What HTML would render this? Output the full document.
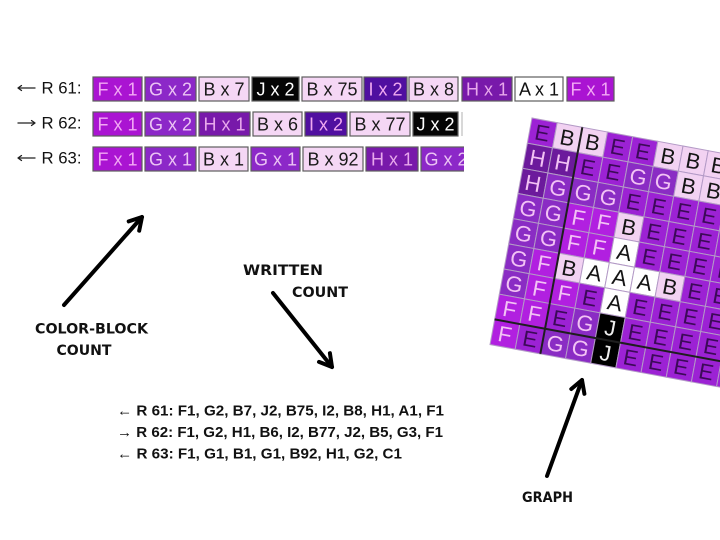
<!DOCTYPE html>
<html><head><meta charset="utf-8"><style>
html,body{margin:0;padding:0;background:#fff;}
svg{display:block;}
.lb{font-family:"Liberation Sans",Arial,sans-serif;font-size:17px;fill:#111;}
.bt{font-family:"Liberation Sans",Arial,sans-serif;font-size:18px;text-anchor:middle;}
.wc{font-family:"Liberation Sans",Arial,sans-serif;font-size:15px;font-weight:bold;fill:#111;}
.cm{font-family:"DejaVu Sans","Liberation Sans",sans-serif;font-size:14px;font-weight:bold;fill:#111;}
.gt{font-family:"Liberation Sans",Arial,sans-serif;font-size:22px;text-anchor:middle;}
.blk rect{stroke:#5e5e5e;stroke-width:1.2;}
.grid rect{stroke:#b39ac6;stroke-width:1;}
.e{fill:#9c22d4}.f{fill:#b120e0}.g{fill:#8a2cc4}.h{fill:#6c1a9c}.b{fill:#f2d2f2}.a{fill:#ffffff}.j{fill:#000}
.te{fill:#3c0a58}.tl{fill:#f2c2f4}.tk{fill:#151515}.tw{fill:#eeeeee}
</style></head><body>
<svg width="720" height="540" viewBox="0 0 720 540" xmlns="http://www.w3.org/2000/svg">
<defs><clipPath id="c63"><rect x="420" y="146" width="44" height="26"/></clipPath></defs>
<rect width="720" height="540" fill="#fff"/>

<!-- Row labels -->
<g stroke="#222" stroke-width="1.3" fill="none" stroke-linecap="round">
<path d="M18,88 L35,88 M18,88 L21.5,85.5 M18,88 L21.5,90.5"/>
<path d="M18,123 L35,123 M35,123 L31.5,120.5 M35,123 L31.5,125.5"/>
<path d="M18,158 L35,158 M18,158 L21.5,155.5 M18,158 L21.5,160.5"/>
</g>
<text class="lb" x="41.5" y="93.5" textLength="40" lengthAdjust="spacingAndGlyphs">R 61:</text>
<text class="lb" x="41.5" y="128.5" textLength="40" lengthAdjust="spacingAndGlyphs">R 62:</text>
<text class="lb" x="41.5" y="163.5" textLength="40" lengthAdjust="spacingAndGlyphs">R 63:</text>

<!-- Color block rows -->
<g class="blk">
<rect x="93" y="77" width="49" height="24" fill="#aa14d2"/><text class="bt" x="117.5" y="95.5" fill="#f2a8f4">F x 1</text>
<rect x="145" y="77" width="51" height="24" fill="#8c28c8"/><text class="bt" x="170.5" y="95.5" fill="#ecc4f4">G x 2</text>
<rect x="199" y="77" width="50" height="24" fill="#f5d7f5"/><text class="bt" x="224" y="95.5" fill="#1a1a1a">B x 7</text>
<rect x="252" y="77" width="47" height="24" fill="#050505"/><text class="bt" x="275.5" y="95.5" fill="#ffffff">J x 2</text>
<rect x="302" y="77" width="60" height="24" fill="#f5d7f5"/><text class="bt" x="332" y="95.5" fill="#1a1a1a">B x 75</text>
<rect x="364" y="77" width="43" height="24" fill="#500fa0"/><text class="bt" x="385.5" y="95.5" fill="#f0a8f0">I x 2</text>
<rect x="409" y="77" width="49" height="24" fill="#f5d7f5"/><text class="bt" x="433.5" y="95.5" fill="#1a1a1a">B x 8</text>
<rect x="462" y="77" width="50" height="24" fill="#7819aa"/><text class="bt" x="487" y="95.5" fill="#e8a8ec">H x 1</text>
<rect x="515" y="77" width="48" height="24" fill="#ffffff"/><text class="bt" x="539" y="95.5" fill="#111">A x 1</text>
<rect x="567" y="77" width="47" height="24" fill="#aa14d2"/><text class="bt" x="590.5" y="95.5" fill="#f2a8f4">F x 1</text>
<rect x="93" y="112" width="49" height="24" fill="#aa14d2"/><text class="bt" x="117.5" y="130.5" fill="#f2a8f4">F x 1</text>
<rect x="145" y="112" width="51" height="24" fill="#8c28c8"/><text class="bt" x="170.5" y="130.5" fill="#ecc4f4">G x 2</text>
<rect x="199" y="112" width="51" height="24" fill="#7819aa"/><text class="bt" x="224.5" y="130.5" fill="#e8a8ec">H x 1</text>
<rect x="253" y="112" width="49" height="24" fill="#f5d7f5"/><text class="bt" x="277.5" y="130.5" fill="#1a1a1a">B x 6</text>
<rect x="305" y="112" width="42" height="24" fill="#500fa0"/><text class="bt" x="326" y="130.5" fill="#f0a8f0">I x 2</text>
<rect x="350" y="112" width="60" height="24" fill="#f5d7f5"/><text class="bt" x="380" y="130.5" fill="#1a1a1a">B x 77</text>
<rect x="413" y="112" width="45" height="24" fill="#050505"/><text class="bt" x="435.5" y="130.5" fill="#ffffff">J x 2</text>
<rect x="93" y="147" width="49" height="24" fill="#aa14d2"/><text class="bt" x="117.5" y="165.5" fill="#f2a8f4">F x 1</text>
<rect x="145" y="147" width="51" height="24" fill="#8c28c8"/><text class="bt" x="170.5" y="165.5" fill="#ecc4f4">G x 1</text>
<rect x="199" y="147" width="49" height="24" fill="#f5d7f5"/><text class="bt" x="223.5" y="165.5" fill="#1a1a1a">B x 1</text>
<rect x="251" y="147" width="49" height="24" fill="#8c28c8"/><text class="bt" x="275.5" y="165.5" fill="#ecc4f4">G x 1</text>
<rect x="303" y="147" width="60" height="24" fill="#f5d7f5"/><text class="bt" x="333" y="165.5" fill="#1a1a1a">B x 92</text>
<rect x="366" y="147" width="52" height="24" fill="#7819aa"/><text class="bt" x="392" y="165.5" fill="#e8a8ec">H x 1</text>
</g>
<rect x="461" y="112" width="2" height="24" fill="#d8d8d8"/>
<g clip-path="url(#c63)">
<rect x="421" y="147" width="50" height="24" fill="#8c28c8" stroke="#5e5e5e" stroke-width="1.2"/>
<text class="bt" x="446" y="165.5" fill="#ecc4f4">G x 2</text>
</g>

<!-- Graph -->
<g transform="translate(532,118) rotate(10.5)">
<g class="grid">
<rect x="0" y="0" width="25.6" height="25.6" class="e"/><rect x="25.6" y="0" width="25.6" height="25.6" class="b"/><rect x="51.2" y="0" width="25.6" height="25.6" class="b"/><rect x="76.8" y="0" width="25.6" height="25.6" class="e"/><rect x="102.4" y="0" width="25.6" height="25.6" class="e"/><rect x="128" y="0" width="25.6" height="25.6" class="b"/><rect x="153.6" y="0" width="25.6" height="25.6" class="b"/><rect x="179.2" y="0" width="25.6" height="25.6" class="b"/><rect x="204.8" y="0" width="25.6" height="25.6" class="b"/><rect x="230.4" y="0" width="25.6" height="25.6" class="b"/>
<rect x="0" y="25.6" width="25.6" height="25.6" class="h"/><rect x="25.6" y="25.6" width="25.6" height="25.6" class="h"/><rect x="51.2" y="25.6" width="25.6" height="25.6" class="e"/><rect x="76.8" y="25.6" width="25.6" height="25.6" class="e"/><rect x="102.4" y="25.6" width="25.6" height="25.6" class="g"/><rect x="128" y="25.6" width="25.6" height="25.6" class="g"/><rect x="153.6" y="25.6" width="25.6" height="25.6" class="b"/><rect x="179.2" y="25.6" width="25.6" height="25.6" class="b"/><rect x="204.8" y="25.6" width="25.6" height="25.6" class="b"/><rect x="230.4" y="25.6" width="25.6" height="25.6" class="b"/>
<rect x="0" y="51.2" width="25.6" height="25.6" class="h"/><rect x="25.6" y="51.2" width="25.6" height="25.6" class="g"/><rect x="51.2" y="51.2" width="25.6" height="25.6" class="g"/><rect x="76.8" y="51.2" width="25.6" height="25.6" class="g"/><rect x="102.4" y="51.2" width="25.6" height="25.6" class="e"/><rect x="128" y="51.2" width="25.6" height="25.6" class="e"/><rect x="153.6" y="51.2" width="25.6" height="25.6" class="e"/><rect x="179.2" y="51.2" width="25.6" height="25.6" class="e"/><rect x="204.8" y="51.2" width="25.6" height="25.6" class="e"/><rect x="230.4" y="51.2" width="25.6" height="25.6" class="e"/>
<rect x="0" y="76.8" width="25.6" height="25.6" class="g"/><rect x="25.6" y="76.8" width="25.6" height="25.6" class="g"/><rect x="51.2" y="76.8" width="25.6" height="25.6" class="f"/><rect x="76.8" y="76.8" width="25.6" height="25.6" class="f"/><rect x="102.4" y="76.8" width="25.6" height="25.6" class="b"/><rect x="128" y="76.8" width="25.6" height="25.6" class="e"/><rect x="153.6" y="76.8" width="25.6" height="25.6" class="e"/><rect x="179.2" y="76.8" width="25.6" height="25.6" class="e"/><rect x="204.8" y="76.8" width="25.6" height="25.6" class="e"/><rect x="230.4" y="76.8" width="25.6" height="25.6" class="e"/>
<rect x="0" y="102.4" width="25.6" height="25.6" class="g"/><rect x="25.6" y="102.4" width="25.6" height="25.6" class="g"/><rect x="51.2" y="102.4" width="25.6" height="25.6" class="f"/><rect x="76.8" y="102.4" width="25.6" height="25.6" class="f"/><rect x="102.4" y="102.4" width="25.6" height="25.6" class="a"/><rect x="128" y="102.4" width="25.6" height="25.6" class="e"/><rect x="153.6" y="102.4" width="25.6" height="25.6" class="e"/><rect x="179.2" y="102.4" width="25.6" height="25.6" class="e"/><rect x="204.8" y="102.4" width="25.6" height="25.6" class="e"/><rect x="230.4" y="102.4" width="25.6" height="25.6" class="e"/>
<rect x="0" y="128" width="25.6" height="25.6" class="g"/><rect x="25.6" y="128" width="25.6" height="25.6" class="f"/><rect x="51.2" y="128" width="25.6" height="25.6" class="b"/><rect x="76.8" y="128" width="25.6" height="25.6" class="a"/><rect x="102.4" y="128" width="25.6" height="25.6" class="a"/><rect x="128" y="128" width="25.6" height="25.6" class="a"/><rect x="153.6" y="128" width="25.6" height="25.6" class="b"/><rect x="179.2" y="128" width="25.6" height="25.6" class="e"/><rect x="204.8" y="128" width="25.6" height="25.6" class="e"/><rect x="230.4" y="128" width="25.6" height="25.6" class="e"/>
<rect x="0" y="153.6" width="25.6" height="25.6" class="g"/><rect x="25.6" y="153.6" width="25.6" height="25.6" class="f"/><rect x="51.2" y="153.6" width="25.6" height="25.6" class="f"/><rect x="76.8" y="153.6" width="25.6" height="25.6" class="e"/><rect x="102.4" y="153.6" width="25.6" height="25.6" class="a"/><rect x="128" y="153.6" width="25.6" height="25.6" class="e"/><rect x="153.6" y="153.6" width="25.6" height="25.6" class="e"/><rect x="179.2" y="153.6" width="25.6" height="25.6" class="e"/><rect x="204.8" y="153.6" width="25.6" height="25.6" class="e"/><rect x="230.4" y="153.6" width="25.6" height="25.6" class="e"/>
<rect x="0" y="179.2" width="25.6" height="25.6" class="f"/><rect x="25.6" y="179.2" width="25.6" height="25.6" class="f"/><rect x="51.2" y="179.2" width="25.6" height="25.6" class="e"/><rect x="76.8" y="179.2" width="25.6" height="25.6" class="g"/><rect x="102.4" y="179.2" width="25.6" height="25.6" class="j"/><rect x="128" y="179.2" width="25.6" height="25.6" class="e"/><rect x="153.6" y="179.2" width="25.6" height="25.6" class="e"/><rect x="179.2" y="179.2" width="25.6" height="25.6" class="e"/><rect x="204.8" y="179.2" width="25.6" height="25.6" class="e"/><rect x="230.4" y="179.2" width="25.6" height="25.6" class="e"/>
<rect x="0" y="204.8" width="25.6" height="25.6" class="f"/><rect x="25.6" y="204.8" width="25.6" height="25.6" class="e"/><rect x="51.2" y="204.8" width="25.6" height="25.6" class="g"/><rect x="76.8" y="204.8" width="25.6" height="25.6" class="g"/><rect x="102.4" y="204.8" width="25.6" height="25.6" class="j"/><rect x="128" y="204.8" width="25.6" height="25.6" class="e"/><rect x="153.6" y="204.8" width="25.6" height="25.6" class="e"/><rect x="179.2" y="204.8" width="25.6" height="25.6" class="e"/><rect x="204.8" y="204.8" width="25.6" height="25.6" class="e"/><rect x="230.4" y="204.8" width="25.6" height="25.6" class="e"/>
</g>
<text class="gt" y="20.5"><tspan x="12.8" class="te">E</tspan><tspan x="38.4" class="tk">B</tspan><tspan x="64" class="tk">B</tspan><tspan x="89.6" class="te">E</tspan><tspan x="115.2" class="te">E</tspan><tspan x="140.8" class="tk">B</tspan><tspan x="166.4" class="tk">B</tspan><tspan x="192" class="tk">B</tspan><tspan x="217.6" class="tk">B</tspan><tspan x="243.2" class="tk">B</tspan></text>
<text class="gt" y="46.1"><tspan x="12.8" class="tl">H</tspan><tspan x="38.4" class="tl">H</tspan><tspan x="64" class="te">E</tspan><tspan x="89.6" class="te">E</tspan><tspan x="115.2" class="tl">G</tspan><tspan x="140.8" class="tl">G</tspan><tspan x="166.4" class="tk">B</tspan><tspan x="192" class="tk">B</tspan><tspan x="217.6" class="tk">B</tspan><tspan x="243.2" class="tk">B</tspan></text>
<text class="gt" y="71.7"><tspan x="12.8" class="tl">H</tspan><tspan x="38.4" class="tl">G</tspan><tspan x="64" class="tl">G</tspan><tspan x="89.6" class="tl">G</tspan><tspan x="115.2" class="te">E</tspan><tspan x="140.8" class="te">E</tspan><tspan x="166.4" class="te">E</tspan><tspan x="192" class="te">E</tspan><tspan x="217.6" class="te">E</tspan><tspan x="243.2" class="te">E</tspan></text>
<text class="gt" y="97.3"><tspan x="12.8" class="tl">G</tspan><tspan x="38.4" class="tl">G</tspan><tspan x="64" class="tl">F</tspan><tspan x="89.6" class="tl">F</tspan><tspan x="115.2" class="tk">B</tspan><tspan x="140.8" class="te">E</tspan><tspan x="166.4" class="te">E</tspan><tspan x="192" class="te">E</tspan><tspan x="217.6" class="te">E</tspan><tspan x="243.2" class="te">E</tspan></text>
<text class="gt" y="122.9"><tspan x="12.8" class="tl">G</tspan><tspan x="38.4" class="tl">G</tspan><tspan x="64" class="tl">F</tspan><tspan x="89.6" class="tl">F</tspan><tspan x="115.2" class="tk">A</tspan><tspan x="140.8" class="te">E</tspan><tspan x="166.4" class="te">E</tspan><tspan x="192" class="te">E</tspan><tspan x="217.6" class="te">E</tspan><tspan x="243.2" class="te">E</tspan></text>
<text class="gt" y="148.5"><tspan x="12.8" class="tl">G</tspan><tspan x="38.4" class="tl">F</tspan><tspan x="64" class="tk">B</tspan><tspan x="89.6" class="tk">A</tspan><tspan x="115.2" class="tk">A</tspan><tspan x="140.8" class="tk">A</tspan><tspan x="166.4" class="tk">B</tspan><tspan x="192" class="te">E</tspan><tspan x="217.6" class="te">E</tspan><tspan x="243.2" class="te">E</tspan></text>
<text class="gt" y="174.1"><tspan x="12.8" class="tl">G</tspan><tspan x="38.4" class="tl">F</tspan><tspan x="64" class="tl">F</tspan><tspan x="89.6" class="te">E</tspan><tspan x="115.2" class="tk">A</tspan><tspan x="140.8" class="te">E</tspan><tspan x="166.4" class="te">E</tspan><tspan x="192" class="te">E</tspan><tspan x="217.6" class="te">E</tspan><tspan x="243.2" class="te">E</tspan></text>
<text class="gt" y="199.7"><tspan x="12.8" class="tl">F</tspan><tspan x="38.4" class="tl">F</tspan><tspan x="64" class="te">E</tspan><tspan x="89.6" class="tl">G</tspan><tspan x="115.2" class="tw">J</tspan><tspan x="140.8" class="te">E</tspan><tspan x="166.4" class="te">E</tspan><tspan x="192" class="te">E</tspan><tspan x="217.6" class="te">E</tspan><tspan x="243.2" class="te">E</tspan></text>
<text class="gt" y="225.3"><tspan x="12.8" class="tl">F</tspan><tspan x="38.4" class="te">E</tspan><tspan x="64" class="tl">G</tspan><tspan x="89.6" class="tl">G</tspan><tspan x="115.2" class="tw">J</tspan><tspan x="140.8" class="te">E</tspan><tspan x="166.4" class="te">E</tspan><tspan x="192" class="te">E</tspan><tspan x="217.6" class="te">E</tspan><tspan x="243.2" class="te">E</tspan></text>
<line x1="51.2" y1="0" x2="51.2" y2="230.4" stroke="#1e1e1e" stroke-width="2"/>
<line x1="0" y1="204.8" x2="256" y2="204.8" stroke="#1e1e1e" stroke-width="2"/>
</g>

<!-- Arrows -->
<g fill="none" stroke="#000" stroke-width="4" stroke-linecap="round" stroke-linejoin="round">
<path d="M64,305 L142,217"/><path d="M128.7,221.4 L142,217 L139.2,230.7"/>
<path d="M273,293 L332,367"/><path d="M319,361.9 L332,367 L329.9,353.2"/>
<path d="M547,476 L582,380"/><path d="M571.3,389 L582,380 L584.4,393.8"/>
</g>

<!-- Hand labels -->
<text class="cm" x="35" y="333.5" textLength="113" lengthAdjust="spacingAndGlyphs">COLOR-BLOCK</text>
<text class="cm" x="56.5" y="355" textLength="55" lengthAdjust="spacingAndGlyphs">COUNT</text>
<text class="cm" x="243" y="275" textLength="80" lengthAdjust="spacingAndGlyphs">WRITTEN</text>
<text class="cm" x="292" y="297" textLength="56" lengthAdjust="spacingAndGlyphs">COUNT</text>
<text class="cm" x="522" y="502" textLength="51" lengthAdjust="spacingAndGlyphs">GRAPH</text>

<!-- Written count -->
<text class="wc" x="117" y="415.5" textLength="327" lengthAdjust="spacingAndGlyphs">← R 61: F1, G2, B7, J2, B75, I2, B8, H1, A1, F1</text>
<text class="wc" x="117" y="437" textLength="326" lengthAdjust="spacingAndGlyphs">→ R 62: F1, G2, H1, B6, I2, B77, J2, B5, G3, F1</text>
<text class="wc" x="117" y="458.5" textLength="285" lengthAdjust="spacingAndGlyphs">← R 63: F1, G1, B1, G1, B92, H1, G2, C1</text>
</svg>
</body></html>
